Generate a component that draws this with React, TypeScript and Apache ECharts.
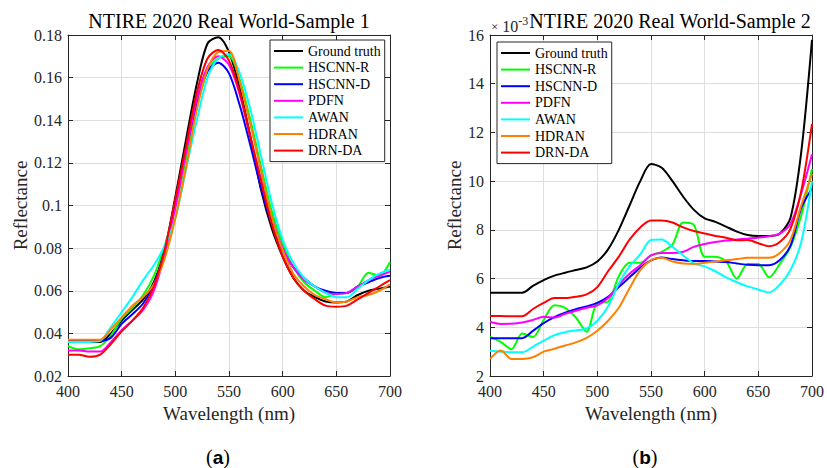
import React, { useEffect, useRef } from "react";
import * as echarts from "echarts";

const wavelengths = [400,410,420,430,440,450,460,470,480,490,500,510,520,530,540,550,560,570,580,590,600,610,620,630,640,650,660,670,680,690,700];

const seriesNames = ["Ground truth","HSCNN-R","HSCNN-D","PDFN","AWAN","HDRAN","DRN-DA"];
const seriesColors = ["#000000","#00ff00","#0000ff","#ff00ff","#00ffff","#ff8000","#ff0000"];

// Sample 1 reflectance
const s1GroundTruth = [0.036,0.036,0.036,0.036,0.040,0.046,0.051,0.056,0.064,0.079,0.104,0.131,0.157,0.176,0.179,0.172,0.155,0.132,0.107,0.089,0.076,0.066,0.060,0.057,0.055,0.0545,0.055,0.058,0.060,0.061,0.062];
const s1HSCNNR = [0.034,0.0325,0.033,0.034,0.039,0.047,0.052,0.058,0.067,0.081,0.099,0.122,0.146,0.163,0.169,0.170,0.159,0.140,0.118,0.097,0.082,0.071,0.064,0.060,0.057,0.0585,0.059,0.062,0.0685,0.067,0.0735];
const s1HSCNND = [0.0365,0.0365,0.0365,0.0365,0.038,0.0445,0.049,0.054,0.063,0.079,0.101,0.126,0.148,0.163,0.167,0.162,0.147,0.128,0.108,0.091,0.079,0.071,0.066,0.062,0.060,0.059,0.059,0.062,0.064,0.066,0.067];
const s1PDFN = [0.032,0.032,0.0315,0.0315,0.036,0.0415,0.046,0.051,0.060,0.077,0.099,0.125,0.150,0.165,0.170,0.166,0.152,0.132,0.112,0.094,0.080,0.071,0.065,0.062,0.059,0.0585,0.059,0.062,0.065,0.067,0.069];
const s1AWAN = [0.036,0.036,0.036,0.0365,0.043,0.050,0.057,0.065,0.072,0.081,0.094,0.117,0.140,0.160,0.169,0.171,0.162,0.145,0.123,0.101,0.084,0.073,0.066,0.062,0.059,0.057,0.057,0.061,0.065,0.068,0.070];
const s1HDRAN = [0.037,0.037,0.037,0.037,0.042,0.0475,0.053,0.057,0.063,0.075,0.094,0.118,0.145,0.164,0.172,0.1725,0.158,0.138,0.116,0.094,0.079,0.068,0.062,0.058,0.056,0.0545,0.055,0.057,0.058,0.060,0.063];
const s1DRNDA = [0.030,0.030,0.029,0.030,0.035,0.041,0.046,0.052,0.062,0.079,0.103,0.128,0.153,0.169,0.173,0.168,0.153,0.132,0.111,0.091,0.076,0.066,0.060,0.056,0.053,0.0525,0.053,0.056,0.059,0.062,0.065];

// Sample 2 reflectance (x 10^-3)
const s2GroundTruth = [5.42,5.42,5.42,5.42,5.7,5.94,6.12,6.24,6.35,6.46,6.7,7.2,8.0,9.0,10.0,10.7,10.55,10.0,9.36,8.82,8.47,8.33,8.13,7.93,7.79,7.75,7.75,7.85,8.5,11.2,15.8];
const s2HSCNNR = [3.62,3.4,3.1,3.75,3.6,4.3,4.9,4.8,4.4,3.82,5.0,5.05,6.1,6.65,6.65,6.95,7.1,7.4,8.3,8.2,6.9,6.9,6.7,6.0,6.6,6.6,6.05,6.6,7.3,8.6,10.5];
const s2HSCNND = [3.55,3.55,3.55,3.55,3.85,4.17,4.42,4.6,4.74,4.86,5.0,5.25,5.65,6.05,6.45,6.75,6.87,6.8,6.75,6.72,6.72,6.7,6.68,6.62,6.57,6.55,6.55,6.76,7.35,8.9,9.7];
const s2PDFN = [4.23,4.14,4.15,4.2,4.3,4.43,4.4,4.55,4.68,4.8,4.9,5.2,5.75,6.2,6.55,6.95,7.05,7.05,7.1,7.3,7.42,7.5,7.56,7.6,7.64,7.68,7.74,7.85,8.25,9.5,11.1];
const s2AWAN = [3.04,3.0,2.97,2.97,3.2,3.45,3.68,3.8,3.87,3.95,4.27,4.85,5.8,6.5,7.0,7.58,7.6,7.3,6.95,6.62,6.5,6.3,6.05,5.85,5.68,5.55,5.43,5.75,6.35,7.5,10.0];
const s2HDRAN = [2.7,3.05,2.7,2.7,2.77,3.0,3.12,3.25,3.38,3.57,3.86,4.27,4.8,5.6,6.35,6.75,6.85,6.7,6.62,6.6,6.65,6.7,6.75,6.8,6.85,6.85,6.85,7.05,7.6,9.0,10.3];
const s2DRNDA = [4.46,4.46,4.45,4.45,4.75,5.0,5.2,5.2,5.25,5.35,5.65,6.3,6.9,7.6,8.1,8.38,8.38,8.3,8.1,7.95,7.85,7.75,7.68,7.57,7.58,7.45,7.33,7.5,8.05,9.6,12.35];

const sample1 = [s1GroundTruth, s1HSCNNR, s1HSCNND, s1PDFN, s1AWAN, s1HDRAN, s1DRNDA];
const sample2 = [s2GroundTruth, s2HSCNNR, s2HSCNND, s2PDFN, s2AWAN, s2HDRAN, s2DRNDA];

const FONT = "Liberation Serif";
const TXT = "#262626";
const GRIDC = "#dedede";

function bottomX(gridIndex: number) {
  return {
    type: "value", gridIndex, min: 400, max: 700, interval: 50, position: "bottom",
    name: "Wavelength (nm)", nameLocation: "middle", nameGap: 28,
    nameTextStyle: { fontFamily: FONT, fontSize: 19, color: TXT },
    axisLine: { show: true, lineStyle: { color: TXT, width: 1 } },
    axisTick: { show: true, inside: true, length: 5, lineStyle: { color: TXT } },
    axisLabel: { fontFamily: FONT, fontSize: 16, color: TXT, margin: 7 },
    splitLine: { show: true, lineStyle: { color: GRIDC, width: 1 } },
  };
}
function topX(gridIndex: number) {
  return {
    type: "value", gridIndex, min: 400, max: 700, interval: 50, position: "top",
    axisLine: { show: true, lineStyle: { color: TXT, width: 1 } },
    axisTick: { show: true, inside: true, length: 5, lineStyle: { color: TXT } },
    axisLabel: { show: false }, splitLine: { show: false },
  };
}
function leftY(gridIndex: number, min: number, max: number, interval: number, gap: number, fmt: (v: number) => string) {
  return {
    type: "value", gridIndex, min, max, interval, position: "left",
    name: "Reflectance", nameLocation: "middle", nameGap: gap, nameRotate: 90,
    nameTextStyle: { fontFamily: FONT, fontSize: 19, color: TXT },
    axisLine: { show: true, lineStyle: { color: TXT, width: 1 } },
    axisTick: { show: true, inside: true, length: 5, lineStyle: { color: TXT } },
    axisLabel: { fontFamily: FONT, fontSize: 16, color: TXT, margin: 6, formatter: fmt },
    splitLine: { show: true, lineStyle: { color: GRIDC, width: 1 } },
  };
}
function rightY(gridIndex: number, min: number, max: number, interval: number) {
  return {
    type: "value", gridIndex, min, max, interval, position: "right",
    axisLine: { show: true, lineStyle: { color: TXT, width: 1 } },
    axisTick: { show: true, inside: true, length: 5, lineStyle: { color: TXT } },
    axisLabel: { show: false }, splitLine: { show: false },
  };
}

function legendAt(left: number, top: number) {
  return {
    left, top, orient: "vertical", selectedMode: false,
    data: seriesNames.map((n) => ({ name: n, icon: "rect" })),
    itemWidth: 29, itemHeight: 2, itemGap: 0.6,
    padding: [3, 4, 3, 4],
    borderColor: TXT, borderWidth: 1, backgroundColor: "#ffffff",
    textStyle: { fontFamily: FONT, fontSize: 14, color: "#000", lineHeight: 16 },
  };
}

export default function App() {
  const ref = useRef<HTMLDivElement>(null);
  useEffect(() => {
    if (!ref.current) return;
    const chart = echarts.init(ref.current, null, { renderer: "svg" });
    const series: any[] = [];
    sample1.forEach((vals, i) => {
      series.push({
        name: seriesNames[i], type: "line", xAxisIndex: 0, yAxisIndex: 0,
        data: wavelengths.map((w, k) => [w, vals[k]]),
        symbol: "none", smooth: 0.3, z: 3 + i,
        lineStyle: { color: seriesColors[i], width: 2 }, itemStyle: { color: seriesColors[i] },
      });
    });
    sample2.forEach((vals, i) => {
      series.push({
        name: seriesNames[i], type: "line", xAxisIndex: 2, yAxisIndex: 2,
        data: wavelengths.map((w, k) => [w, vals[k]]),
        symbol: "none", smooth: 0.3, z: 3 + i,
        lineStyle: { color: seriesColors[i], width: 2 }, itemStyle: { color: seriesColors[i] },
      });
    });
    chart.setOption({
      animation: false,
      backgroundColor: "#ffffff",
      textStyle: { fontFamily: FONT },
      grid: [
        { left: 68, top: 35, width: 322, height: 341, containLabel: false },
        { left: 490, top: 35, width: 326, height: 341, containLabel: false },
      ],
      xAxis: [bottomX(0), topX(0), bottomX(1), topX(1)],
      yAxis: [
        leftY(0, 0.02, 0.18, 0.02, 36, (v: number) => String(+v.toFixed(2))),
        rightY(0, 0.02, 0.18, 0.02),
        leftY(1, 2, 16, 2, 25, (v: number) => String(v)),
        rightY(1, 2, 16, 2),
      ],
      legend: [legendAt(270, 40), legendAt(497, 42)],
      series,
      graphic: [
        { type: "text", x: 229, y: 21, style: { text: "NTIRE 2020 Real World-Sample 1", fontFamily: FONT, fontSize: 20, fill: "#000", align: "center", verticalAlign: "middle" } },
        { type: "text", x: 670, y: 21, style: { text: "NTIRE 2020 Real World-Sample 2", fontFamily: FONT, fontSize: 20, fill: "#000", align: "center", verticalAlign: "middle" } },
        { type: "text", x: 491, y: 26, style: { text: "{a|×}{b| 10}{c|-3}", fontFamily: FONT, fill: TXT, verticalAlign: "middle",
          rich: { a: { fontSize: 13, fontFamily: FONT, fill: TXT }, b: { fontSize: 16, fontFamily: FONT, fill: TXT }, c: { fontSize: 12, fontFamily: FONT, fill: TXT, verticalAlign: "top", padding: [0, 0, 10, 0] } } } },
        { type: "text", x: 218, y: 457, style: { text: "({b|a})", fontFamily: FONT, fontSize: 20, fill: "#000", align: "center", verticalAlign: "middle",
          rich: { b: { fontFamily: "Liberation Sans", fontWeight: "bold", fontSize: 19, fill: "#000" } } } },
        { type: "text", x: 645, y: 457, style: { text: "({b|b})", fontFamily: FONT, fontSize: 20, fill: "#000", align: "center", verticalAlign: "middle",
          rich: { b: { fontFamily: "Liberation Sans", fontWeight: "bold", fontSize: 19, fill: "#000" } } } },
      ],
    });
    return () => chart.dispose();
  }, []);
  return <div ref={ref} style={{ width: 827, height: 468, position: "absolute", left: 0, top: 0 }} />;
}
